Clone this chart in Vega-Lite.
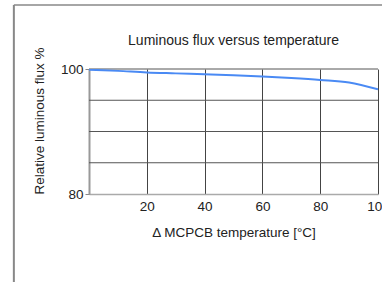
{
  "$schema": "https://vega.github.io/schema/vega-lite/v6.json",
  "width": 289,
  "height": 125,
  "autosize": "none",
  "padding": {"left": 89, "top": 69, "right": 4, "bottom": 88},
  "background": "white",
  "config": {
    "view": {"stroke": null},
    "font": "Liberation Sans",
    "axis": {"labelFont": "Liberation Sans", "titleFont": "Liberation Sans", "labelFontSize": 13.5, "titleFontSize": 13.5, "titleFontWeight": "normal", "labelColor": "#222", "titleColor": "#222"}
  },
  "title": {"text": "Luminous flux versus temperature", "fontSize": 14, "fontWeight": "normal", "color": "#222", "font": "Liberation Sans", "anchor": "middle", "frame": "group", "offset": -44},
  "datasets": {
    "curve": [
      {"t": 0, "flux": 99.9},
      {"t": 10, "flux": 99.7},
      {"t": 20, "flux": 99.45},
      {"t": 30, "flux": 99.3},
      {"t": 40, "flux": 99.15},
      {"t": 50, "flux": 99.0},
      {"t": 60, "flux": 98.8},
      {"t": 70, "flux": 98.55},
      {"t": 80, "flux": 98.25},
      {"t": 90, "flux": 97.85},
      {"t": 100, "flux": 96.75}
    ],
    "hgrid": [{"y": 85, "x": 0, "x2": 100}, {"y": 90, "x": 0, "x2": 100}, {"y": 95, "x": 0, "x2": 100}, {"y": 100, "x": 0, "x2": 100}],
    "frameV": [{"x": -26, "y": 110.24, "y2": 60}],
    "frameH": [{"x": -26, "x2": 120, "y": 110.24}]
  },
  "layer": [
    {
      "data": {"name": "hgrid"},
      "mark": {"type": "rule", "color": "#555", "strokeWidth": 1},
      "encoding": {"x": {"field": "x", "type": "quantitative"}, "x2": {"field": "x2"}, "y": {"field": "y", "type": "quantitative"}}
    },
    {
      "data": {"name": "curve"},
      "mark": {"type": "line", "color": "#4a8af4", "strokeWidth": 2, "interpolate": "monotone", "clip": true},
      "encoding": {
        "x": {"field": "t", "type": "quantitative", "scale": {"domain": [0, 100], "nice": false, "zero": false},
          "axis": {"values": [0, 20, 40, 60, 80, 100], "labelExpr": "datum.value == 0 ? '' : datum.label", "title": "\u0394 MCPCB temperature [\u00b0C]", "titlePadding": 13, "grid": true, "gridColor": "#444", "gridOpacity": 1, "ticks": false, "labelPadding": 5, "domainColor": "#aaa", "domainWidth": 1.5, "labelFlush": false}},
        "y": {"field": "flux", "type": "quantitative", "scale": {"domain": [80, 100], "nice": false, "zero": false},
          "axis": {"values": [80, 100], "title": "Relative luminous flux %", "titleAnchor": "start", "titlePadding": 14, "grid": false, "tickSize": 4, "tickColor": "#888", "labelPadding": 2, "labelOverlap": false, "domainColor": "#999", "domainWidth": 2}}
      }
    },
    {
      "data": {"name": "frameV"},
      "mark": {"type": "rule", "color": "#888", "strokeWidth": 2, "clip": false},
      "encoding": {"x": {"field": "x", "type": "quantitative"}, "y": {"field": "y", "type": "quantitative"}, "y2": {"field": "y2"}}
    },
    {
      "data": {"name": "frameH"},
      "mark": {"type": "rule", "color": "#888", "strokeWidth": 1.5, "clip": false},
      "encoding": {"x": {"field": "x", "type": "quantitative"}, "x2": {"field": "x2"}, "y": {"field": "y", "type": "quantitative"}}
    }
  ]
}
